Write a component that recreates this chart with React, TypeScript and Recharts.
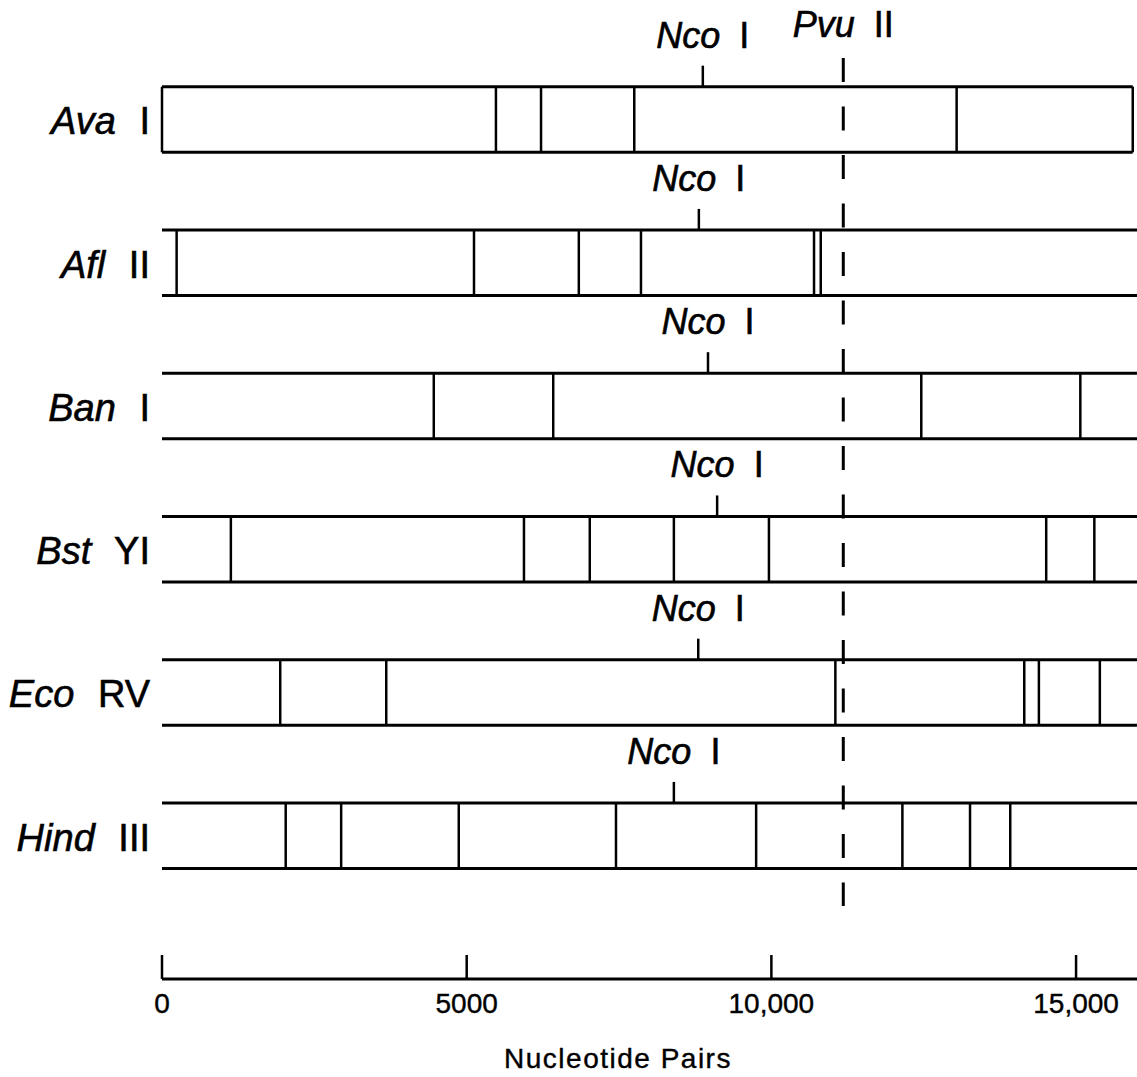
import React from 'react';
import { ScatterChart, Scatter, XAxis, YAxis, ReferenceLine } from 'recharts';

// restriction sites, in nucleotide pairs
const ENZYMES = ['Ava', 'Afl', 'Ban', 'Bst', 'Eco', 'Hind'];
const SUFFIXES = ['I', 'II', 'I', 'YI', 'RV', 'III'];

const AVA_CUTS = [0, 5480, 6220, 7750, 13040, 15930];
const AFL_CUTS = [240, 5120, 6840, 7860, 10700, 10810];
const BAN_CUTS = [4460, 6420, 12460, 15070];
const BST_CUTS = [1130, 5940, 7020, 8400, 9960, 14510, 15300];
const ECO_CUTS = [1940, 3680, 11050, 14150, 14390, 15390];
const HIND_CUTS = [2030, 2940, 4870, 7450, 9750, 12150, 13260, 13920];

const ROW_END = [15930, 16000, 16000, 16000, 16000, 16000];
const NCO_SITES = [8875, 8810, 8960, 9110, 8800, 8400];
const PVU_SITE = 11180;

const SCALE_TICKS = [0, 5000, 10000, 15000];
const SCALE_LABELS = ['0', '5000', '10,000', '15,000'];

const CUTS = [AVA_CUTS, AFL_CUTS, BAN_CUTS, BST_CUTS, ECO_CUTS, HIND_CUTS];
const ROWS = [0, 1, 2, 3, 4, 5];

const X_MAX = 16000;
const Y_TOP = -0.834;
const SCALE_ROW = 6;
const HALF = 0.229;
const PVU_TOP = -0.429;
const PVU_BOTTOM = 5.49;
const SCALE_TICK_LEN = 0.1675;

const FONT = "'Liberation Sans', Arial, Helvetica, sans-serif";

const ncoData = NCO_SITES.map((x, i) => ({ x, y: i - HALF }));
const pvuData = [{ x: PVU_SITE, y: PVU_TOP }];

function RowTick(props: any) {
  const { x, y, payload } = props;
  const i = payload.value as number;
  return (
    <text
      x={x}
      y={y + 15}
      textAnchor="end"
      fontFamily={FONT}
      fontSize={38}
      fill="#000"
      stroke="#000"
      strokeWidth={0.6}
    >
      <tspan fontStyle="italic">{ENZYMES[i]}</tspan>
      <tspan dx={13}>{' ' + SUFFIXES[i]}</tspan>
    </text>
  );
}

function ScaleTick(props: any) {
  const { x, y, index } = props;
  return (
    <text
      x={x}
      y={y + 32}
      textAnchor="middle"
      fontFamily={FONT}
      fontSize={28}
      fill="#000"
      stroke="#000"
      strokeWidth={0.4}
    >
      {SCALE_LABELS[index]}
    </text>
  );
}

function AxisTitle(props: any) {
  const vb = props.viewBox;
  return (
    <text
      x={vb.x + 456}
      y={vb.y + 89}
      textAnchor="middle"
      fontFamily={FONT}
      fontSize={28}
      letterSpacing={1.5}
      fill="#000"
      stroke="#000"
      strokeWidth={0.4}
    >
      Nucleotide Pairs
    </text>
  );
}

function NcoMark(props: any) {
  const { cx, cy } = props;
  return (
    <g>
      <line x1={cx} y1={cy} x2={cx} y2={cy - 21} stroke="#000" strokeWidth={2.5} />
      <text
        x={cx}
        y={cy - 39}
        textAnchor="middle"
        fontFamily={FONT}
        fontSize={36}
        fill="#000"
        stroke="#000"
        strokeWidth={0.6}
      >
        <tspan fontStyle="italic">Nco</tspan>
        <tspan dx={9}>{' I'}</tspan>
      </text>
    </g>
  );
}

function PvuMark(props: any) {
  const { cx, cy } = props;
  return (
    <text
      x={cx}
      y={cy - 21}
      textAnchor="middle"
      fontFamily={FONT}
      fontSize={36}
      fill="#000"
      stroke="#000"
      strokeWidth={0.6}
    >
      <tspan fontStyle="italic">Pvu</tspan>
      <tspan dx={9}>{' II'}</tspan>
    </text>
  );
}

export default function App() {
  return (
    <div style={{ position: 'fixed', left: 0, top: 0, width: 1137, height: 1077, background: '#fff' }}>
      <ScatterChart width={1137} height={1077} margin={{ top: 0, right: 0, bottom: 0, left: 0 }}>
        <XAxis
          type="number"
          dataKey="x"
          domain={[0, X_MAX]}
          ticks={SCALE_TICKS}
          interval={0}
          allowDataOverflow
          height={98}
          tickLine={false}
          tickSize={0}
          axisLine={{ stroke: '#000', strokeWidth: 3 }}
          tick={(p: any) => <ScaleTick {...p} />}
          label={{ content: (p: any) => <AxisTitle {...p} /> }}
        />
        <YAxis
          type="number"
          dataKey="y"
          domain={[Y_TOP, SCALE_ROW]}
          reversed
          ticks={ROWS}
          interval={0}
          allowDataOverflow
          width={162}
          axisLine={false}
          tickLine={false}
          tickSize={0}
          tickMargin={12}
          tick={(p: any) => <RowTick {...p} />}
        />

        {ROWS.map((r) =>
          [r - HALF, r + HALF].map((yy, k) => (
            <ReferenceLine
              key={`h-${r}-${k}`}
              segment={[
                { x: 0, y: yy },
                { x: ROW_END[r], y: yy },
              ]}
              stroke="#000"
              strokeWidth={3}
              ifOverflow="visible"
            />
          ))
        )}

        {ROWS.map((r) =>
          CUTS[r].map((c, k) => (
            <ReferenceLine
              key={`c-${r}-${k}`}
              segment={[
                { x: c, y: r - HALF },
                { x: c, y: r + HALF },
              ]}
              stroke="#000"
              strokeWidth={2.5}
              ifOverflow="visible"
            />
          ))
        )}

        <ReferenceLine
          segment={[
            { x: PVU_SITE, y: PVU_TOP },
            { x: PVU_SITE, y: PVU_BOTTOM },
          ]}
          stroke="#000"
          strokeWidth={3}
          strokeDasharray="24 24.5"
          ifOverflow="visible"
        />

        {SCALE_TICKS.map((t) => (
          <ReferenceLine
            key={`t-${t}`}
            segment={[
              { x: t, y: SCALE_ROW - SCALE_TICK_LEN },
              { x: t, y: SCALE_ROW },
            ]}
            stroke="#000"
            strokeWidth={2.5}
            ifOverflow="visible"
          />
        ))}

        <Scatter data={ncoData} shape={(p: any) => <NcoMark {...p} />} isAnimationActive={false} />
        <Scatter data={pvuData} shape={(p: any) => <PvuMark {...p} />} isAnimationActive={false} />
      </ScatterChart>
    </div>
  );
}
